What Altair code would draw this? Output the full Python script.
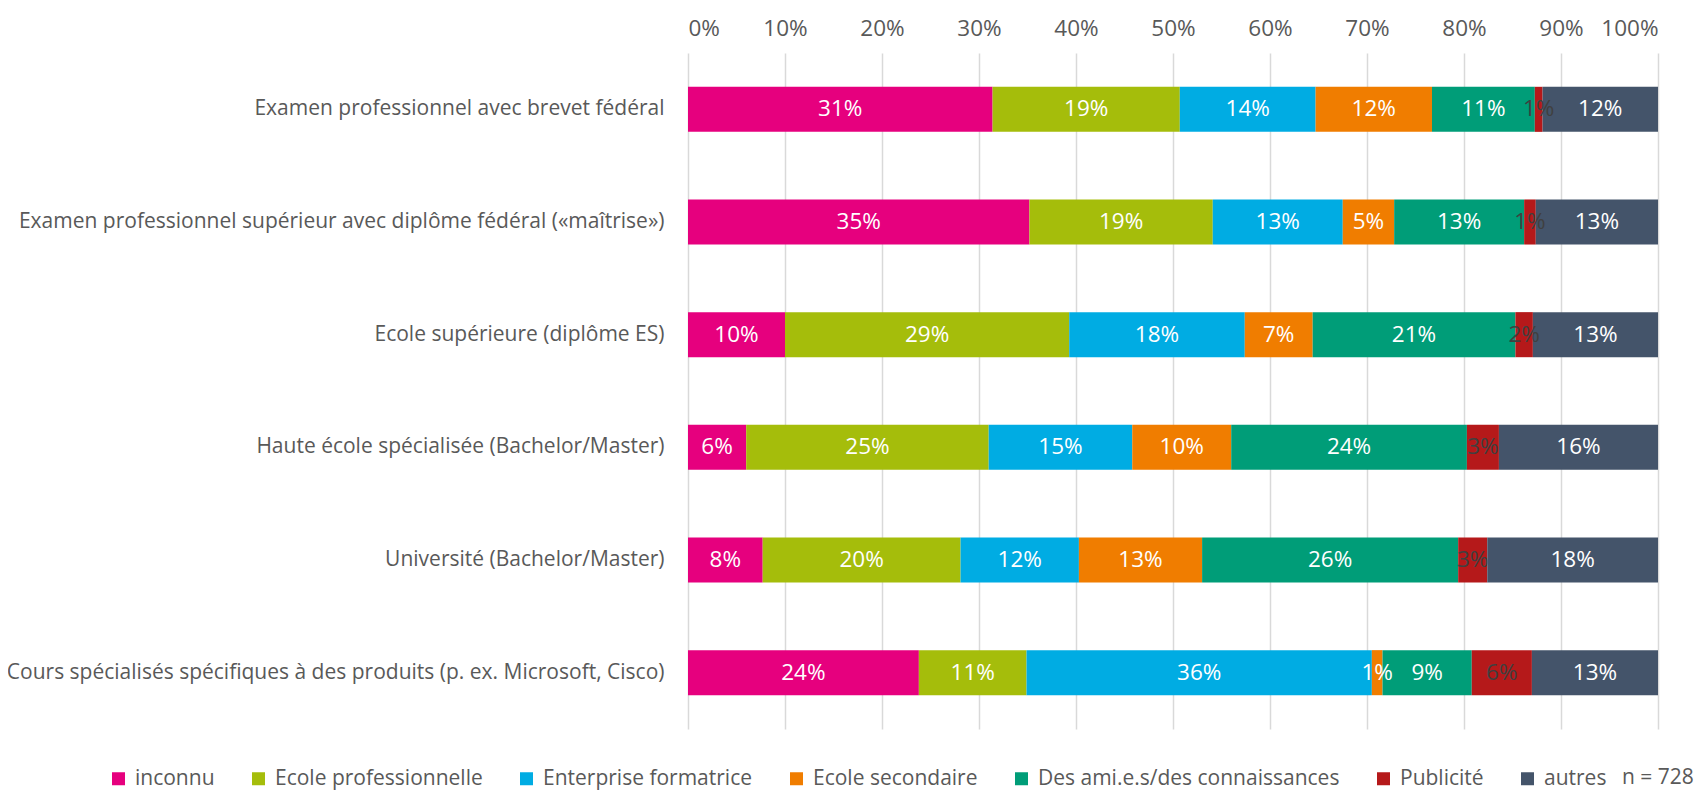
import altair as alt
import pandas as pd

programs = [
    "Examen professionnel avec brevet fédéral",
    "Examen professionnel supérieur avec diplôme fédéral («maîtrise»)",
    "Ecole supérieure (diplôme ES)",
    "Haute école spécialisée (Bachelor/Master)",
    "Université (Bachelor/Master)",
    "Cours spécialisés spécifiques à des produits (p. ex. Microsoft, Cisco)",
]
sources = [
    "inconnu",
    "Ecole professionnelle",
    "Enterprise formatrice",
    "Ecole secondaire",
    "Des ami.e.s/des connaissances",
    "Publicité",
    "autres",
]
colors = ["#E6007E", "#A5BD0B", "#00ACE3", "#F07D00", "#009D78", "#B5191A", "#44546A"]

inconnu = [31.4, 35.2, 10.0, 6.0, 7.7, 23.8]
ecole_prof = [19.3, 18.9, 29.3, 25.0, 20.4, 11.1]
entreprise = [14.0, 13.4, 18.1, 14.8, 12.2, 35.6]
ecole_sec = [12.0, 5.3, 7.0, 10.2, 12.7, 1.1]
amis = [10.6, 13.4, 20.9, 24.3, 26.4, 9.2]
publicite = [0.8, 1.2, 1.8, 3.3, 3.0, 6.2]
autres = [11.9, 12.6, 12.9, 16.4, 17.6, 13.0]
x_ticks = [0, 10, 20, 30, 40, 50, 60, 70, 80, 90, 100]
note = "n = 728"

series = [inconnu, ecole_prof, entreprise, ecole_sec, amis, publicite, autres]
rows = []
for si, (src, vals) in enumerate(zip(sources, series)):
    for p, v in zip(programs, vals):
        rows.append({"program": p, "source": src, "order": si, "value": v})
df = pd.DataFrame(rows)

FONT = "Open Sans"
GREY = "#595959"
FS = 21
FS_NUM = 22.5

y_enc = alt.Y(
    "program:N",
    sort=programs,
    scale=alt.Scale(paddingInner=0.6, paddingOuter=0.3),
    axis=alt.Axis(
        title=None, ticks=False, domain=False, labelPadding=24, labelLimit=800,
        labelFont=FONT, labelFontSize=FS, labelColor=GREY,
    ),
)

bars = alt.Chart(df).mark_bar().encode(
    x=alt.X(
        "value:Q",
        stack="zero",
        scale=alt.Scale(domain=[0, 100], nice=False),
        axis=alt.Axis(
            orient="top", values=x_ticks, labelExpr="datum.value + '%'",
            title=None, ticks=False, tickSize=0, domain=False, grid=True,
            gridColor="#D9D9D9", gridWidth=1.5, labelPadding=13,
            labelFont=FONT, labelFontSize=FS_NUM, labelColor=GREY,
        ),
    ),
    y=y_enc,
    color=alt.Color(
        "source:N",
        scale=alt.Scale(domain=sources, range=colors),
        legend=alt.Legend(
            title=None, orient="none", direction="horizontal", columns=7,
            legendX=-580, legendY=715, symbolType="square", symbolSize=169,
            symbolStrokeWidth=0, symbolOpacity=1, labelFont=FONT, labelFontSize=FS,
            labelColor=GREY, columnPadding=33, labelOffset=6, padding=0,
            labelLimit=500,
        ),
    ),
    order=alt.Order("order:Q"),
)

labels = alt.Chart(df).transform_stack(
    stack="value", groupby=["program"], as_=["v0", "v1"],
    sort=[alt.SortField("order", order="ascending")],
).transform_calculate(
    mid="(datum.v0 + datum.v1) / 2",
    lab="format(datum.value / 100, '.0%')",
).mark_text(font=FONT, fontSize=FS_NUM, baseline="middle", align="center").encode(
    x=alt.X("mid:Q"),
    y=alt.Y("program:N", sort=programs),
    text="lab:N",
    color=alt.condition(
        alt.datum.source == "Publicité", alt.value("#404040"), alt.value("white")
    ),
)

n_text = alt.Chart(pd.DataFrame({"t": [note]})).mark_text(
    font=FONT, fontSize=FS, align="left", baseline="middle", color=GREY
).encode(text="t:N", x=alt.value(934), y=alt.value(725))

chart = alt.layer(bars, labels, n_text).properties(
    width=970,
    height=676,
    autosize=alt.AutoSizeParams(type="none"),
    padding={"left": 680, "top": 45, "right": 39, "bottom": 64},
).configure_view(stroke=None)

chart.save("out.html", embed_options={"renderer": "svg", "actions": False})
